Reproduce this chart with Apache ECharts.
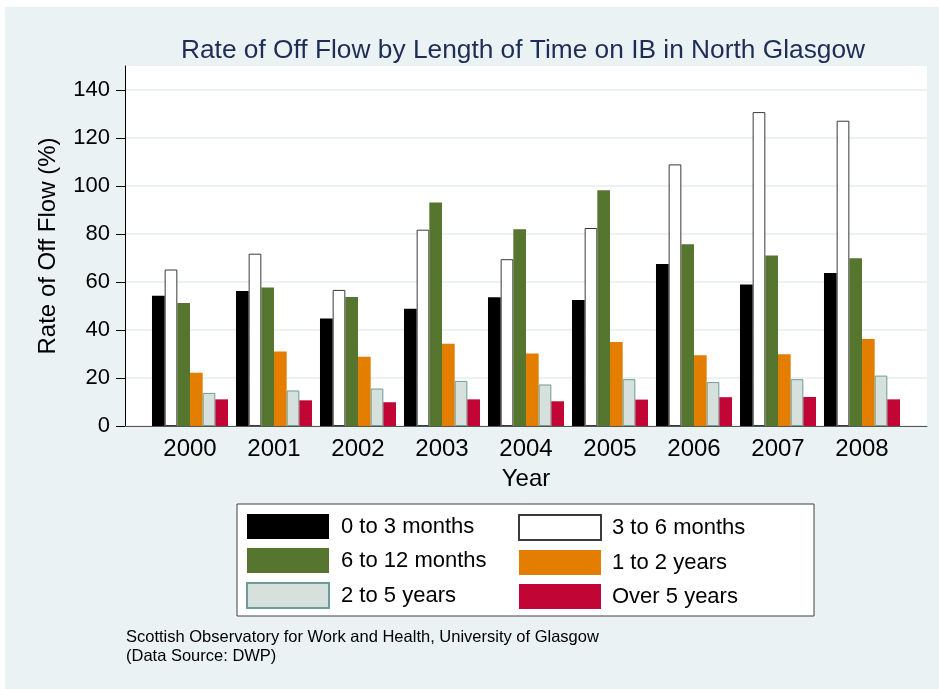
<html>
<head>
<meta charset="utf-8">
<style>
  body { margin: 0; background: #ffffff; }
  #main { position: absolute; left: 5px; top: 7px; width: 934px; height: 682px; }
</style>
</head>
<body>
<div id="main"></div>
<script src="https://cdn.jsdelivr.net/npm/echarts@6/dist/echarts.min.js"></script>
<script>
  // data
  let years = ['2000', '2001', '2002', '2003', '2004', '2005', '2006', '2007', '2008'];
  let m0to3 = [54.3, 56.3, 44.8, 48.9, 53.6, 52.5, 67.5, 59.0, 63.8];
  let m3to6 = [65.2, 71.8, 56.7, 81.8, 69.5, 82.5, 109.0, 130.8, 127.2];
  let m6to12 = [51.3, 57.7, 53.8, 93.1, 82.0, 98.2, 75.7, 71.0, 69.9];
  let y1to2 = [22.2, 31.0, 28.9, 34.3, 30.2, 35.0, 29.5, 29.9, 36.3];
  let y2to5 = [13.8, 14.8, 15.6, 18.8, 17.3, 19.5, 18.3, 19.5, 21.0];
  let over5 = [11.1, 10.7, 9.9, 11.1, 10.3, 11.0, 12.0, 12.1, 11.1];
  let yTicks = [0, 20, 40, 60, 80, 100, 120, 140];

  let font = 'Liberation Sans, Arial, sans-serif';
  let bg = '#eaf2f3';

  function bar(name, data, color, border) {
    let s = {
      name: name,
      type: 'bar',
      xAxisIndex: 2,
      yAxisIndex: 2,
      data: data,
      barGap: '0%',
      barCategoryGap: '9.5%',
      itemStyle: { color: color }
    };
    if (border) {
      s.itemStyle.borderColor = border;
      s.itemStyle.borderWidth = 1;
    }
    return s;
  }

  let myChart = echarts.init(document.getElementById('main'));
  let option = {
    backgroundColor: bg,
    animation: false,
    textStyle: { fontFamily: font },
    title: [{
      text: 'Rate of Off Flow by Length of Time on IB in North Glasgow',
      left: 513,
      textAlign: 'center',
      top: 26,
      textStyle: { fontSize: 26.3, fontWeight: 'normal', color: '#1f2d56', fontFamily: font }
    }, {
      text: 'Scottish Observatory for Work and Health, University of Glasgow\n(Data Source: DWP)',
      left: 121,
      top: 621,
      padding: 0,
      textStyle: { fontSize: 16.5, fontWeight: 'normal', color: '#000', lineHeight: 19, fontFamily: font }
    }],
    graphic: [{
      type: 'rect',
      shape: { x: 232, y: 497, width: 577, height: 112 },
      style: { fill: '#ffffff', stroke: '#404040', lineWidth: 1 },
      z: 0
    }],
    legend: [{
      data: ['0 to 3 months', '6 to 12 months', '2 to 5 years'],
      orient: 'vertical',
      left: 241,
      top: 507,
      padding: 0,
      itemWidth: 82,
      itemHeight: 25,
      itemGap: 9,
      icon: 'rect',
      textStyle: { fontSize: 22, color: '#000', padding: [0, 0, 0, 7], fontFamily: font }
    }, {
      data: ['3 to 6 months', '1 to 2 years', 'Over 5 years'],
      orient: 'vertical',
      left: 513,
      top: 507,
      padding: 0,
      itemWidth: 82,
      itemHeight: 25,
      itemGap: 9,
      icon: 'rect',
      textStyle: { fontSize: 22, color: '#000', padding: [0, 0, 0, 6], fontFamily: font }
    }],
    grid: [
      { left: 120, top: 59, width: 802, height: 360, show: true, backgroundColor: '#ffffff', borderWidth: 0 },
      { left: 120, top: 83, width: 802, height: 336 },
      { left: 143, top: 83, width: 756, height: 336 }
    ],
    xAxis: [{
      gridIndex: 0, type: 'value', min: 0, max: 1,
      axisLine: { show: true, lineStyle: { color: '#555', width: 1 } },
      axisTick: { show: false }, axisLabel: { show: false }, splitLine: { show: false }
    }, {
      gridIndex: 1, type: 'value', min: 0, max: 1, show: false
    }, {
      gridIndex: 2, type: 'category', data: years,
      name: 'Year', nameLocation: 'middle', nameGap: 41,
      nameTextStyle: { fontSize: 24, color: '#000', fontFamily: font },
      axisLine: { show: false }, axisTick: { show: false },
      axisLabel: { fontSize: 24, color: '#000', margin: 11, fontFamily: font }
    }],
    yAxis: [{
      gridIndex: 0, type: 'value', min: 0, max: 1,
      name: 'Rate of Off Flow (%)', nameLocation: 'middle', nameGap: 65,
      nameTextStyle: { fontSize: 24, color: '#000', fontFamily: font },
      axisLine: { show: true, lineStyle: { color: '#000', width: 1 } },
      axisTick: { show: false }, axisLabel: { show: false }, splitLine: { show: false }
    }, {
      gridIndex: 1, type: 'value', min: yTicks[0], max: yTicks[yTicks.length - 1], interval: 20,
      axisLine: { show: false },
      axisTick: { show: true, length: 9, lineStyle: { color: '#000' } },
      axisLabel: { fontSize: 22, color: '#000', margin: 15, fontFamily: font },
      splitLine: { show: true, lineStyle: { color: bg, width: 2 } }
    }, {
      gridIndex: 2, type: 'value', min: yTicks[0], max: yTicks[yTicks.length - 1], show: false
    }],
    series: [
      bar('0 to 3 months', m0to3, '#000000'),
      bar('3 to 6 months', m3to6, '#ffffff', '#3a3a3a'),
      bar('6 to 12 months', m6to12, '#56752f'),
      bar('1 to 2 years', y1to2, '#e37e00'),
      bar('2 to 5 years', y2to5, '#d6e1de', '#6e9c97'),
      bar('Over 5 years', over5, '#c10534')
    ]
  };
  myChart.setOption(option);
</script>
</body>
</html>
